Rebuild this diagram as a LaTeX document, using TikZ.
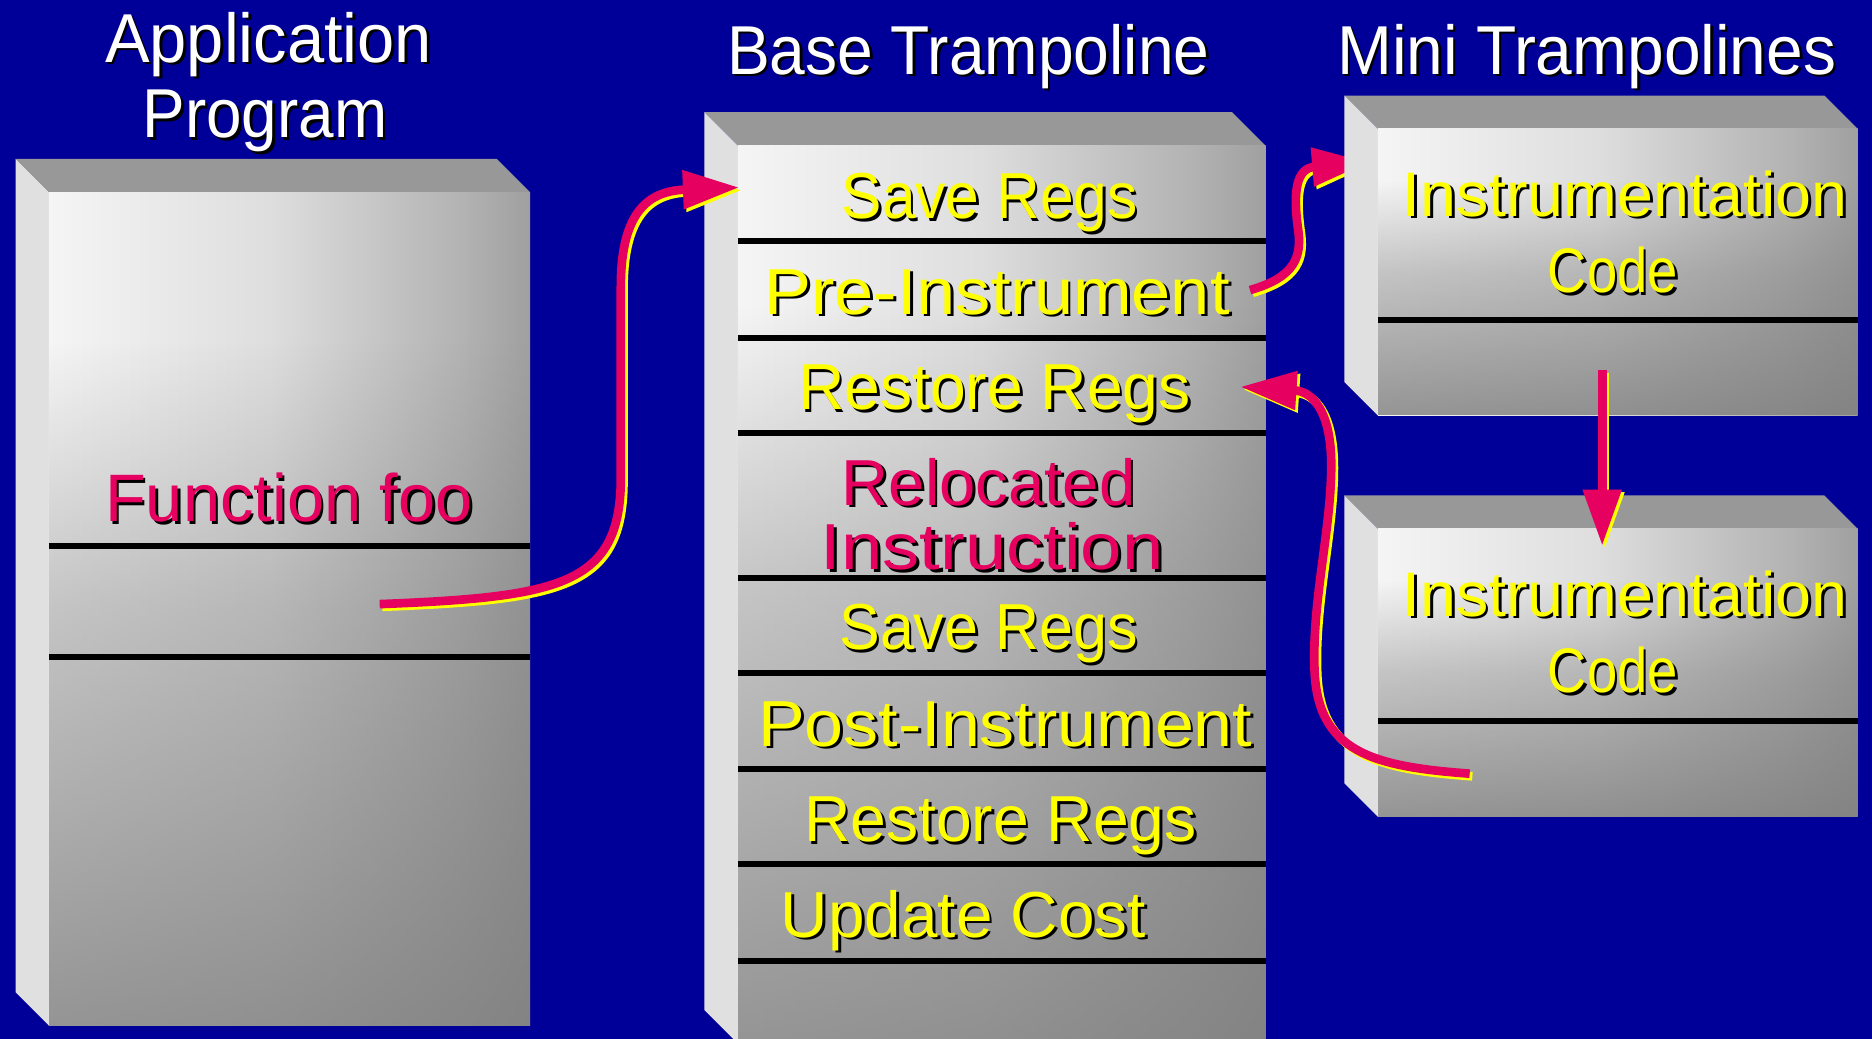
\documentclass[tikz,border=0pt]{standalone}
\usepackage{fontspec}
\setmainfont{Liberation Sans}
\usetikzlibrary{arrows.meta,fadings}
\definecolor{bg}{RGB}{0,0,153}
\definecolor{crim}{RGB}{230,0,95}
\definecolor{ylw}{RGB}{255,255,0}
\definecolor{sidef}{RGB}{224,224,224}
\definecolor{topf}{RGB}{152,152,152}
\definecolor{darkf}{RGB}{124,124,124}
\pgfdeclarehorizontalshading{frontsh}{100bp}{color(0bp)=(white); color(20bp)=(white!98!black); color(48bp)=(white!87!black); color(68bp)=(white!70!black); color(86bp)=(darkf!95!white); color(100bp)=(darkf)}
\pgfdeclareverticalshading{fdsh}{100bp}{color(0bp)=(pgftransparent!0); color(12bp)=(pgftransparent!0); color(50bp)=(pgftransparent!60); color(66bp)=(pgftransparent!100); color(100bp)=(pgftransparent!100)}
\pgfdeclarefading{fadedown}{\pgfuseshading{fdsh}}
\newcommand\shd[2]{\makebox[0pt][l]{\hspace*{1.3pt}\raisebox{-1.3pt}{\textcolor{black}{#2}}}\textcolor{#1}{#2}}
\newcommand\fitw[3]{\resizebox{#1}{\height}{\shd{#2}{#3}}}
\newcommand\blockbox[5]{%
  \fill[topf] (#1,#2) -- ({#4-#3},#2) -- (#4,{#2+#3}) -- ({#1+#3},{#2+#3}) -- cycle;
  \fill[sidef] (#1,#2) -- ({#1+#3},{#2+#3}) -- ({#1+#3},#5) -- (#1,{#5-#3}) -- cycle;
  \fill[shading=frontsh] ({#1+#3},{#2+#3}) rectangle (#4,#5);
  \fill[darkf, path fading=fadedown] ({#1+#3},{#2+#3}) rectangle (#4,#5);
}
\tikzset{
  sep/.style={black, line width=0.1cm},
  ttl/.style={anchor=base, inner sep=0pt, font=\fontsize{33}{38}\selectfont},
  row/.style={anchor=base, inner sep=0pt, font=\fontsize{31}{36}\selectfont},
  arr/.style={crim, line width=0.145cm, -{Triangle[length=0.94cm,width=0.62cm]}},
  arrsh/.style={ylw, line width=0.145cm, -{Triangle[length=0.94cm,width=0.62cm]}, transform canvas={xshift=0.045cm,yshift=-0.045cm}}
}
\begin{document}
\begin{tikzpicture}[x=0.02cm,y=-0.02cm]
\fill[bg] (0,0) rectangle (1568,870);
\useasboundingbox (0,0) rectangle (1568,870);

% titles
\node[ttl] (tapp1) at (225,52) {\fitw{5.48cm}{white}{Application}};
\node[ttl] (tapp2) at (222,115) {\fitw{4.1cm}{white}{Program}};
\node[ttl] (tbase) at (811,62) {\fitw{8.08cm}{white}{Base Trampoline}};
\node[ttl] (tmini) at (1329,62) {\fitw{8.36cm}{white}{Mini Trampolines}};

% application program block
\blockbox{13}{133}{28}{444}{859}
\draw[sep] (41,457) -- (444,457);
\draw[sep] (41,550) -- (444,550);
\node[row, font=\fontsize{32}{36}\selectfont] (foo) at (242,437) {\fitw{6.16cm}{crim}{Function foo}};

% base trampoline block
\blockbox{590}{94}{28}{1060}{874}
\foreach \yy in {202,283,363,484,564,644,724,805} \draw[sep] (618,\yy) -- (1060,\yy);
\node[row] (save1) at (829,183) {\fitw{4.96cm}{ylw}{Save Regs}};
\node[row] (pre) at (835,263) {\fitw{7.8cm}{ylw}{Pre-Instrument}};
\node[row] (rest1) at (833,343) {\fitw{6.58cm}{ylw}{Restore Regs}};
\node[row] (reloc1) at (828,423) {\fitw{4.92cm}{crim}{Relocated}};
\node[row] (reloc2) at (831,477) {\fitw{5.74cm}{crim}{Instruction}};
\node[row] (save2) at (828,544) {\fitw{5.0cm}{ylw}{Save Regs}};
\node[row] (post) at (842,625) {\fitw{8.28cm}{ylw}{Post-Instrument}};
\node[row] (rest2) at (838,705) {\fitw{6.58cm}{ylw}{Restore Regs}};
\node[row] (upd) at (807,785) {\fitw{6.12cm}{ylw}{Update Cost}};

% arrow 2 (drawn behind the first mini block)
\coordinate (a2s) at (1047,243);
\coordinate (a2e) at (1146,136);
\draw[arrsh] (a2s) .. controls (1085,232) and (1091,215) .. (1087,190) .. controls (1083,160) and (1086,141) .. (a2e);
\draw[arr] (a2s) .. controls (1085,232) and (1091,215) .. (1087,190) .. controls (1083,160) and (1086,141) .. (a2e);

% mini trampolines
\blockbox{1126}{80}{28}{1556}{348}
\draw[sep] (1154,268) -- (1556,268);
\node[row, font=\fontsize{30}{34}\selectfont] (ins1) at (1361,181) {\fitw{7.46cm}{ylw}{Instrumentation}};
\node[row, font=\fontsize{30}{34}\selectfont] (code1) at (1351,245) {\fitw{2.18cm}{ylw}{Code}};

\blockbox{1126}{415}{28}{1556}{684}
\draw[sep] (1154,604) -- (1556,604);
\node[row, font=\fontsize{30}{34}\selectfont] (ins2) at (1361,516) {\fitw{7.46cm}{ylw}{Instrumentation}};
\node[row, font=\fontsize{30}{34}\selectfont] (code2) at (1351,580) {\fitw{2.18cm}{ylw}{Code}};

% arrow 1: function foo -> save regs
\coordinate (a1s) at (318,506);
\coordinate (a1e) at (619,157);
\draw[arrsh] (a1s) .. controls (470,500) and (520,490) .. (520,400) -- (520,240) .. controls (520,175) and (545,160) .. (a1e);
\draw[arr] (a1s) .. controls (470,500) and (520,490) .. (520,400) -- (520,240) .. controls (520,175) and (545,160) .. (a1e);

% arrow 3: mini 1 -> mini 2
\coordinate (a3s) at (1342,310);
\coordinate (a3e) at (1342,457);
\draw[arrsh] (a3s) -- (a3e);
\draw[arr] (a3s) -- (a3e);

% arrow 4: mini 2 -> restore regs
\coordinate (a4s) at (1231,648);
\coordinate (a4e) at (1039,324);
\draw[arrsh] (a4s) .. controls (1150,642) and (1103,630) .. (1101,560) .. controls (1099,500) and (1116,440) .. (1115,385) .. controls (1114,345) and (1100,328) .. (a4e);
\draw[arr] (a4s) .. controls (1150,642) and (1103,630) .. (1101,560) .. controls (1099,500) and (1116,440) .. (1115,385) .. controls (1114,345) and (1100,328) .. (a4e);
\end{tikzpicture}
\end{document}
